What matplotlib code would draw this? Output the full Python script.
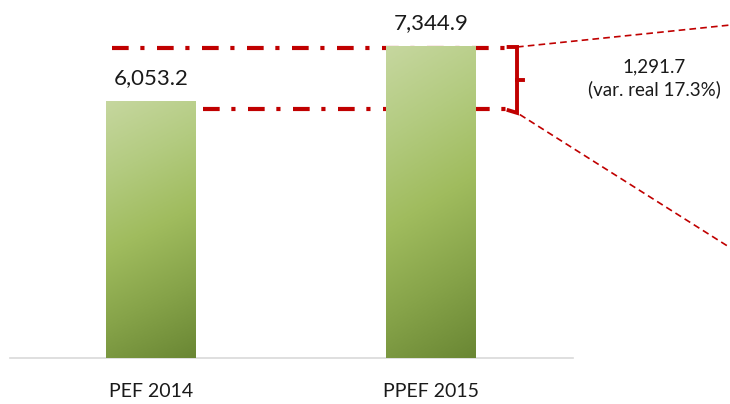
import matplotlib
matplotlib.use("Agg")
import matplotlib.pyplot as plt
import numpy as np
from matplotlib.colors import LinearSegmentedColormap

plt.rcParams["font.family"] = ["Lato", "DejaVu Sans"]

# Datos
categories = ["PEF 2014", "PPEF 2015"]
values = [6053.2, 7344.9]
value_labels = ["6,053.2", "7,344.9"]
diff_label = "1,291.7\n(var. real 17.3%)"

# Colores
C_RED = "#C00000"
C_AXIS = "#D9D9D9"
C_TEXT = "#1A1A1A"
green = LinearSegmentedColormap.from_list(
    "green", ["#C6D79F", "#B3CB80", "#A0BC5E", "#86A349", "#6A8734"])

fig = plt.figure(figsize=(7.30, 4.04), dpi=100)
ax = fig.add_axes([10 / 730, 46 / 404, 563 / 730, 358 / 404])

x = np.arange(len(categories))
bw = 0.32
bars = ax.bar(x, values, width=bw, color="none", zorder=3)

# degradado diagonal dentro de cada barra
ny, nx = 200, 60
v = np.linspace(0, 1, ny)[:, None]
h = np.linspace(0, 1, nx)[None, :]
grad = 0.85 * v + 0.15 * h
for b in bars:
    x0, y0 = b.get_x(), b.get_y()
    im = ax.imshow(grad, cmap=green, vmin=0, vmax=1, aspect="auto",
                   extent=[x0, x0 + b.get_width(), y0, y0 + b.get_height()],
                   origin="upper", zorder=3, interpolation="bilinear")
    im.set_clip_path(b)

ax.set_xlim(-0.504, 1.507)
ax.set_ylim(0, 358 / 0.04246)

for xi, val, lbl in zip(x, values, value_labels):
    ax.annotate(lbl, (xi, val), xytext=(0, 12), textcoords="offset points",
                ha="center", va="baseline", fontsize=16, color=C_TEXT, zorder=5)

# lineas punto-raya de referencia
dash = (0, (4.0, 2.8, 1.0, 3.0))
x_end = 1.293
br_x = 1.307
hi = values[1] - 40
lo = values[0] - 190
ax.plot([-0.139, x_end], [hi, hi], color=C_RED, lw=3, ls=dash,
        dash_capstyle="butt", zorder=2, clip_on=False)
ax.plot([0.187, x_end], [lo, lo], color=C_RED, lw=3, ls=dash,
        dash_capstyle="butt", zorder=2, clip_on=False)

# llave
br_top = hi + 20
br_bot = lo - 90
ax.plot([br_x - 0.03, br_x, br_x, br_x - 0.03],
        [br_top, br_top, br_bot, br_bot + 60],
        color=C_RED, lw=2.8, solid_joinstyle="miter", zorder=4, clip_on=False)
mid = (br_top + br_bot) / 2
ax.plot([br_x, br_x + 0.022], [mid, mid], color=C_RED, lw=2.8, zorder=4,
        clip_on=False)

# lineas finas de zoom
ax.plot([br_x, 2.07], [br_top, 7843], color=C_RED, lw=1.2, ls=(0, (4, 2.5)),
        zorder=4, clip_on=False)
ax.plot([br_x + 0.01, 2.07], [br_bot - 40, 2591], color=C_RED, lw=1.2,
        ls=(0, (4, 2.5)), zorder=4, clip_on=False)

ax.text(1.798, (hi + lo) / 2, diff_label, ha="center", va="center",
        fontsize=13.5, color=C_TEXT, linespacing=1.35, zorder=5)

# ejes
for s in ["top", "right", "left"]:
    ax.spines[s].set_visible(False)
ax.spines["bottom"].set_color(C_AXIS)
ax.spines["bottom"].set_linewidth(1.2)
ax.set_yticks([])
ax.set_xticks(x)
ax.set_xticklabels(categories, fontsize=14, color=C_TEXT)
ax.tick_params(axis="x", length=0, pad=18)
ax.patch.set_alpha(0)

fig.savefig("out.png", dpi=100)
